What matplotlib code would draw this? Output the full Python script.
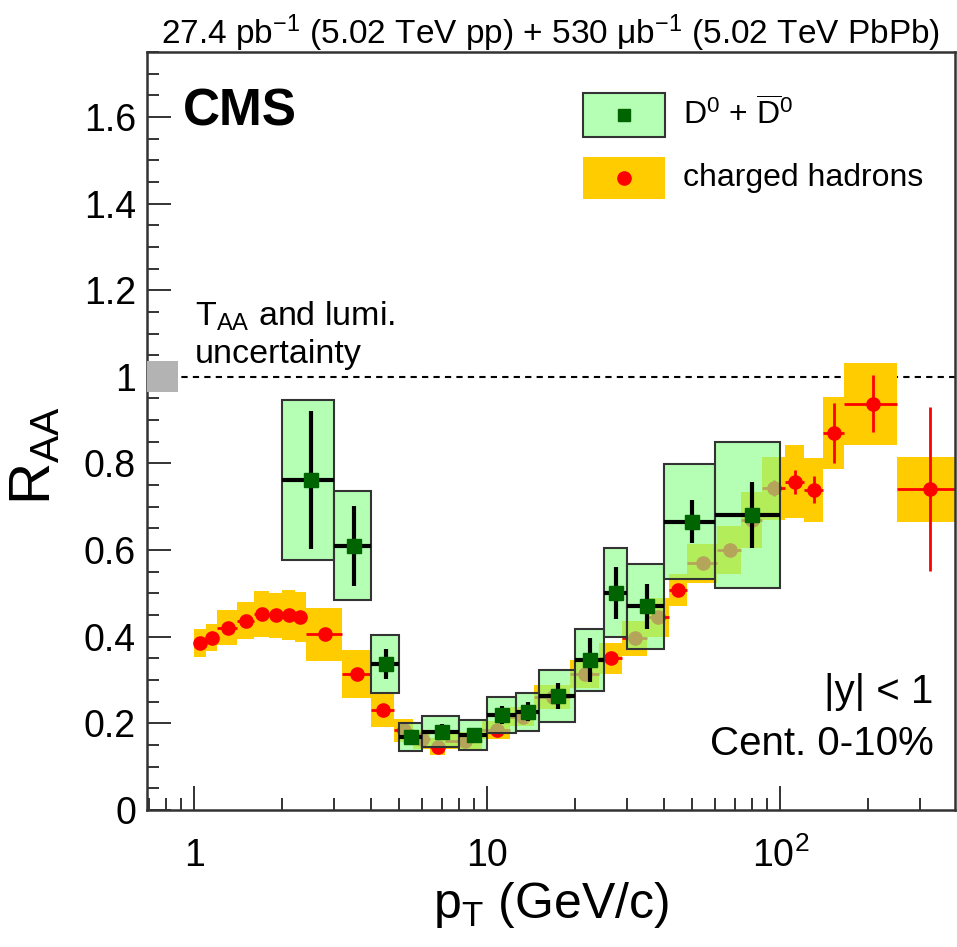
import numpy as np
import matplotlib
matplotlib.use('Agg')
import matplotlib.pyplot as plt
from matplotlib.patches import Rectangle
import matplotlib.transforms as mtransforms

plt.rcParams['font.family'] = ['Liberation Sans', 'DejaVu Sans']
plt.rcParams['mathtext.fontset'] = 'custom'
plt.rcParams['mathtext.rm'] = 'Liberation Sans'
plt.rcParams['mathtext.it'] = 'Liberation Sans'
plt.rcParams['mathtext.bf'] = 'Liberation Sans:bold'

# charged hadrons, 0-10%
ch_edges = [1.0, 1.1, 1.2, 1.4, 1.6, 1.8, 2.0, 2.2, 2.4, 3.2, 4.0, 4.8, 5.6, 6.4,
            7.2, 9.6, 12.0, 14.4, 19.2, 24.0, 28.8, 35.2, 41.6, 48.0, 60.8, 73.6,
            86.4, 103.6, 120.8, 140.0, 165.0, 250.0, 400.0]
ch_raa = [0.386, 0.398, 0.421, 0.437, 0.452, 0.449, 0.450, 0.446, 0.406, 0.314,
          0.231, 0.184, 0.163, 0.146, 0.160, 0.185, 0.215, 0.260, 0.314, 0.350,
          0.396, 0.445, 0.508, 0.570, 0.600, 0.670, 0.743, 0.758, 0.739, 0.870,
          0.938, 0.741]
ch_stat = [0.002, 0.002, 0.002, 0.002, 0.002, 0.002, 0.002, 0.002, 0.003, 0.003,
           0.003, 0.003, 0.003, 0.003, 0.003, 0.004, 0.004, 0.005, 0.006, 0.007,
           0.008, 0.009, 0.010, 0.010, 0.012, 0.015, 0.018, 0.028, 0.031, 0.070,
           0.066, 0.190]
ch_sys = [0.032, 0.032, 0.040, 0.043, 0.053, 0.052, 0.058, 0.058, 0.061, 0.055,
          0.040, 0.026, 0.022, 0.020, 0.020, 0.020, 0.022, 0.028, 0.033, 0.035,
          0.040, 0.045, 0.037, 0.045, 0.055, 0.065, 0.073, 0.084, 0.073, 0.083,
          0.095, 0.075]

# prompt D0 + D0bar, |y| < 1
d0_edges = [2, 3, 4, 5, 6, 8, 10, 12.5, 15, 20, 25, 30, 40, 60, 100]
d0_raa = [0.762, 0.610, 0.337, 0.168, 0.181, 0.173, 0.219, 0.227, 0.263, 0.346,
          0.502, 0.470, 0.666, 0.681]
d0_stat = [0.160, 0.092, 0.034, 0.012, 0.018, 0.012, 0.021, 0.022, 0.029, 0.050,
           0.060, 0.052, 0.049, 0.077]
d0_sys = [0.184, 0.126, 0.067, 0.033, 0.035, 0.035, 0.042, 0.044, 0.060, 0.072,
          0.103, 0.098, 0.132, 0.168]

taa_unc = 0.036

ch_orange = '#ffcc00'
d0_fill = (0.55, 1.0, 0.55, 0.65)
d0_marker = '#006400'

fig = plt.figure(figsize=(9.57, 9.47), dpi=100)
ax = fig.add_axes([0.1536, 0.1447, 0.998 - 0.1536, 0.9451 - 0.1447])
ax.set_xscale('log')
ax.set_xlim(0.69, 395)
ax.set_ylim(0, 1.75)

# charged hadrons
lo = np.array(ch_edges[:-1])
hi = np.array(ch_edges[1:])
xc = 0.5 * (lo + hi)
y = np.array(ch_raa)
s = np.array(ch_sys)
ax.bar(lo, 2 * s, width=hi - lo, bottom=y - s, align='edge',
       color=ch_orange, linewidth=0, zorder=1)
ax.errorbar(xc, y, xerr=[xc - lo, hi - xc], yerr=ch_stat, fmt='o', color='red',
            ms=9.5, elinewidth=2, capsize=0, zorder=2)

# D0
lo = np.array(d0_edges[:-1], dtype=float)
hi = np.array(d0_edges[1:], dtype=float)
xc = 0.5 * (lo + hi)
y = np.array(d0_raa)
s = np.array(d0_sys)
ax.bar(lo, 2 * s, width=hi - lo, bottom=y - s, align='edge',
       facecolor=d0_fill, edgecolor='#333333', linewidth=1.5, zorder=3)
ax.errorbar(xc, y, xerr=[xc - lo, hi - xc], yerr=d0_stat, fmt='s',
            color='black', mfc=d0_marker, mec=d0_marker, ms=10,
            elinewidth=3, capsize=0, zorder=4)

# unity line and normalisation box
ax.axhline(1.0, color='black', ls=(0, (3, 2.5)), lw=1.5, zorder=0)
trans = mtransforms.blended_transform_factory(ax.transAxes, ax.transData)
ax.add_patch(Rectangle((0, 1 - taa_unc), 0.038, 2 * taa_unc, transform=trans,
                       facecolor='#b3b3b3', edgecolor='none', zorder=5))

# axes style
ax.set_xticks([1, 10, 100])
ax.set_xticklabels(['1', '10', '$10^2$'])
ax.set_xticks([0.7, 0.8, 0.9] + list(range(2, 10)) + list(range(20, 100, 10)) + [200, 300],
              minor=True)
ax.set_xticklabels([], minor=True)
ax.set_yticks(np.arange(0, 1.61, 0.2))
ax.set_yticklabels(['0', '0.2', '0.4', '0.6', '0.8', '1', '1.2', '1.4', '1.6'])
ax.set_yticks(np.arange(0, 1.751, 0.05), minor=True)
ax.tick_params(which='both', direction='in', top=False, right=False,
               width=1.4, color='#333333', labelsize=27)
ax.tick_params(which='major', length=17)
ax.tick_params(which='minor', length=8.5)
ax.tick_params(axis='x', pad=20)
ax.tick_params(axis='y', pad=8)
for sp in ax.spines.values():
    sp.set_linewidth(1.8)
    sp.set_color('#333333')

ax.text(0.5, -0.125, r'p$_{\mathrm{T}}$ (GeV/c)', transform=ax.transAxes,
        ha='center', va='center', fontsize=36)
fig.text(35 / 957, 1 - 455 / 947, r'R$_{\mathrm{AA}}$', rotation=90,
         ha='center', va='center', fontsize=42)

fig.text(940 / 957, 1 - 44 / 947,
         r'27.4 pb$^{-1}$ (5.02 TeV pp) + 530 μb$^{-1}$ (5.02 TeV PbPb)',
         ha='right', va='baseline', fontsize=24)
ax.text(0.0446, 0.9525, 'CMS', transform=ax.transAxes, ha='left', va='top',
        fontsize=37, fontweight='bold')
ax.text(0.0594, 0.6385, r'T$_{\mathrm{AA}}$ and lumi.', transform=ax.transAxes,
        ha='left', va='baseline', fontsize=24.5)
ax.text(0.0594, 0.5897, 'uncertainty', transform=ax.transAxes,
        ha='left', va='baseline', fontsize=24.5)
ax.text(0.973, 0.1412, '|y| < 1', transform=ax.transAxes,
        ha='right', va='baseline', fontsize=29)
ax.text(0.973, 0.0726, 'Cent. 0-10%', transform=ax.transAxes,
        ha='right', va='baseline', fontsize=29)

# legend
ax.add_patch(Rectangle((0.5396, 0.888), 0.1014, 0.058, transform=ax.transAxes,
                       facecolor=d0_fill, edgecolor='#333333', lw=1.5, zorder=6))
ax.plot([0.5903], [0.917], 's', color=d0_marker, ms=9, transform=ax.transAxes, zorder=7)
ax.add_patch(Rectangle((0.5396, 0.806), 0.1014, 0.0555, transform=ax.transAxes,
                       facecolor=ch_orange, edgecolor='none', zorder=6))
ax.plot([0.5903], [0.834], 'o', color='red', ms=9.5, transform=ax.transAxes, zorder=7)
ax.text(0.663, 0.917, r'D$^{0}$ + $\overline{\mathrm{D}}^{0}$', transform=ax.transAxes,
        ha='left', va='center', fontsize=23)
ax.text(0.663, 0.834, 'charged hadrons', transform=ax.transAxes,
        ha='left', va='center', fontsize=23)

fig.savefig('out.png', dpi=100)
